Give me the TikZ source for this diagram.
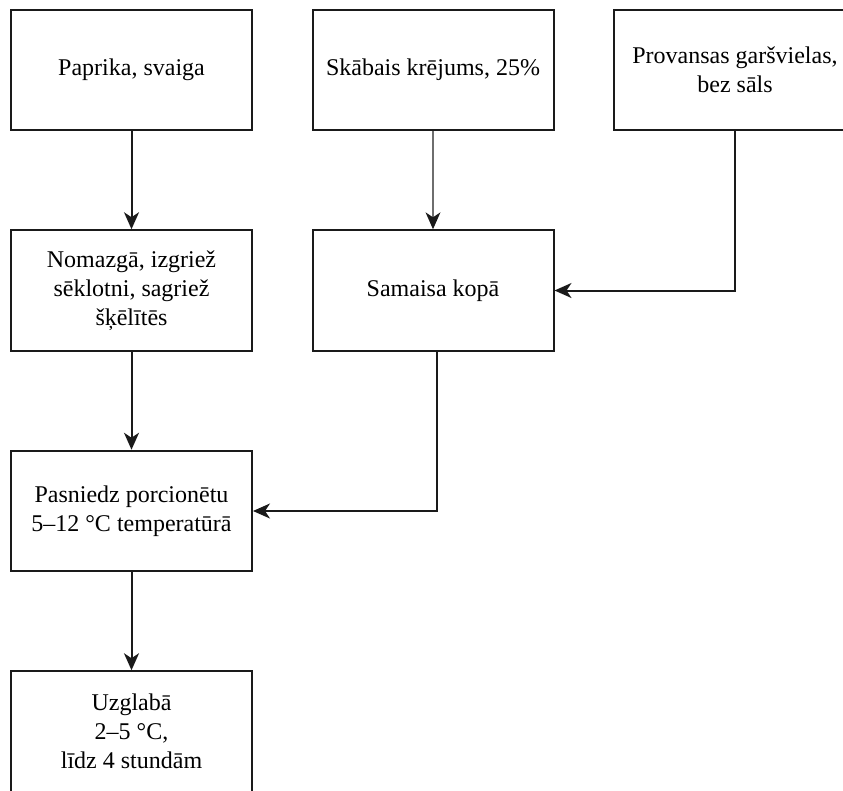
\documentclass[tikz,border=0pt]{standalone}
\usepackage{fontspec}
\setmainfont{Liberation Serif}
\usetikzlibrary{arrows.meta}
\definecolor{lineclr}{HTML}{1A1A1A}
\definecolor{grayline}{HTML}{6E6E6E}
\begin{document}
\begin{tikzpicture}[x=1pt,y=-1pt,
  box/.style={draw=lineclr, line width=2pt, fill=white, minimum width=241pt, minimum height=120.5pt,
    inner sep=0pt, align=center, font=\fontsize{24}{28.8}\selectfont},
  conn/.style={draw=lineclr, line width=2pt, -{Stealth[length=17pt,width=15pt,inset=5pt]}},
  gconn/.style={conn, draw=grayline, line width=2.4pt, -{Stealth[length=17pt,width=15pt,inset=5pt,color=lineclr,line width=0pt]}}]
\useasboundingbox (0,0) rectangle (843,790);
\node[box] (b1) at (131.5,70) {Paprika, svaiga};
\node[box] (b2) at (433,70) {Skābais krējums, 25\%};
\node[box, minimum width=242pt] (b3) at (735,70) {Provansas garšvielas,\\bez sāls};
\node[box] (b4) at (131.5,290.5) {Nomazgā, izgriež\\sēklotni, sagriež\\šķēlītēs};
\node[box] (b5) at (433,290.5) {Samaisa kopā};
\node[box] (b6) at (131.5,511) {Pasniedz porcionētu\\5–12 °C temperatūrā};
\node[box] (b7) at (131.5,731.5) {Uzglabā\\2–5 °C,\\līdz 4 stundām};
\draw[conn] (b1) -- (b4);
\draw[gconn] (b2) -- (b5);
\draw[conn] (b3.south) |- (b5.east);
\draw[conn] (b4) -- (b6);
\draw[conn] ([xshift=4pt]b5.south) |- (b6.east);
\draw[conn] (b6) -- (b7);
\end{tikzpicture}
\end{document}
